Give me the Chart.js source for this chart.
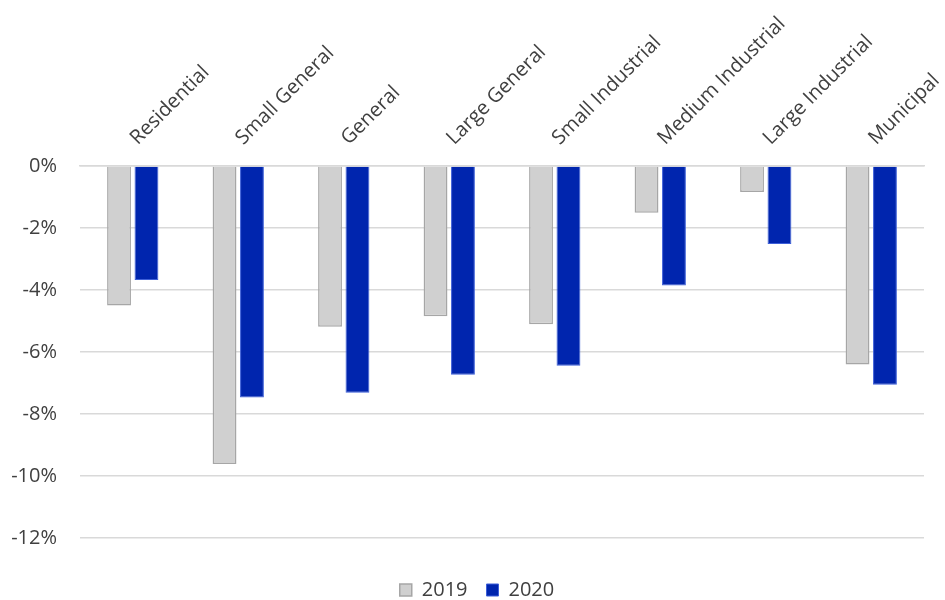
<!DOCTYPE html>
<html>
<head>
<meta charset="utf-8">
<script src="https://cdn.jsdelivr.net/npm/chart.js@4.4.1/dist/chart.umd.min.js"></script>
<style>
  html, body { margin: 0; padding: 0; background: #fff; }
  #wrap { width: 945px; height: 600px; }
</style>
</head>
<body>
<div id="wrap"><canvas id="rateChart"></canvas></div>
<script>
// Change in sales by customer class, percent
const categories = ['Residential', 'Small General', 'General', 'Large General',
  'Small Industrial', 'Medium Industrial', 'Large Industrial', 'Municipal'];
const values2019 = [-4.5, -9.62, -5.19, -4.85, -5.11, -1.51, -0.84, -6.41];
const values2020 = [-3.68, -7.47, -7.32, -6.74, -6.45, -3.86, -2.52, -7.06];
const yTicks = [0, -2, -4, -6, -8, -10, -12];

const fontFamily = '"Open Sans", "Liberation Sans", sans-serif';
const textColor = '#404040';
const gridColor = '#d9d9d9';

const ctx = document.getElementById('rateChart').getContext('2d');
const rateChart = new Chart(ctx, {
  type: 'bar',
  data: {
    labels: categories,
    datasets: [
      {
        label: '2019',
        data: values2019,
        backgroundColor: '#d0d0d0',
        borderColor: '#a6a6a6',
        borderWidth: 1.5,
        categoryPercentage: 0.52,
        barPercentage: 0.87
      },
      {
        label: '2020',
        data: values2020,
        backgroundColor: '#0025ae',
        borderColor: '#3d5fd8',
        borderWidth: 1,
        categoryPercentage: 0.52,
        barPercentage: 0.87
      }
    ]
  },
  options: {
    responsive: true,
    maintainAspectRatio: false,
    animation: false,
    // negative padding nudges the legend row lower and a bit to the right
    layout: { padding: { left: 0, right: -9, top: 0, bottom: -10 } },
    plugins: {
      tooltip: { enabled: false },
      legend: {
        position: 'bottom',
        title: {
          display: true,
          text: '',
          font: { size: 1 },
          padding: { top: 22, bottom: 0 }
        },
        labels: {
          boxWidth: 12,
          boxHeight: 12,
          padding: 19,
          color: textColor,
          font: { family: fontFamily, size: 20 }
        }
      }
    },
    scales: {
      x: {
        position: 'top',
        grid: { display: false, drawTicks: false },
        border: { display: true, color: gridColor, width: 1.5 },
        ticks: {
          minRotation: 45,
          maxRotation: 45,
          padding: 16,
          labelOffset: 18,
          color: textColor,
          font: { family: fontFamily, size: 20 }
        },
        afterFit: function (scale) {
          scale.height = 166;
          scale.paddingLeft = 0;
          // keeps the plot's right edge at x=924
          scale.paddingRight = 21;
        }
      },
      y: {
        min: -12,
        max: 0,
        afterBuildTicks: function (scale) {
          scale.ticks = yTicks.map(v => ({ value: v }));
        },
        grid: { color: gridColor, lineWidth: 1.5, drawTicks: false },
        border: { display: false },
        ticks: {
          padding: 23,
          color: textColor,
          font: { family: fontFamily, size: 20 },
          callback: v => v + '%'
        },
        afterFit: function (scale) { scale.width = 80; }
      }
    }
  }
});
</script>
</body>
</html>
